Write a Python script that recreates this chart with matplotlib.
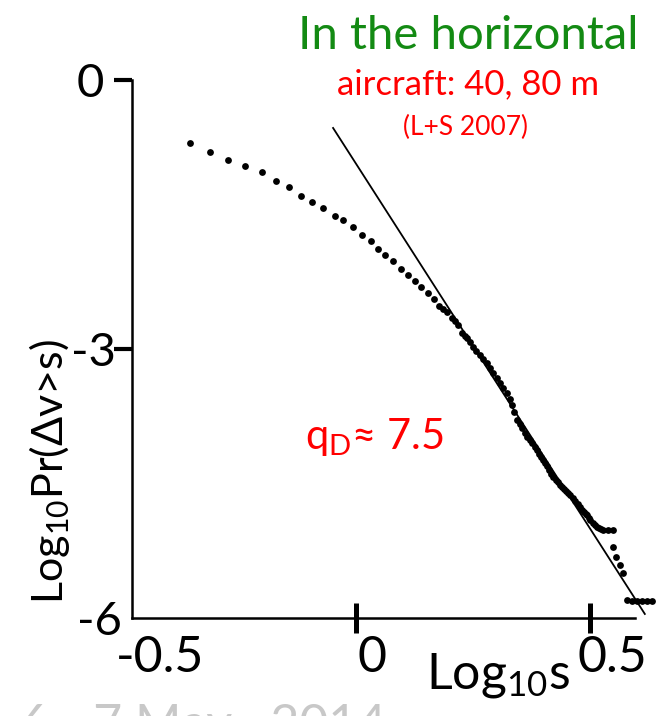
"""
plot.py
Tail of the horizontal velocity-increment distribution (aircraft data, L+S 2007).
"""
import matplotlib
matplotlib.use('Agg')
import matplotlib.pyplot as plt
from matplotlib.transforms import ScaledTranslation

plt.rcParams['font.family'] = ['Lato', 'DejaVu Sans']
plt.rcParams['mathtext.fontset'] = 'custom'
plt.rcParams['mathtext.rm'] = 'Lato'
plt.rcParams['mathtext.it'] = 'Lato'

# log10 s  vs  log10 Pr(dv > s)
log_s = [-0.355, -0.312, -0.274, -0.237, -0.201, -0.171, -0.143, -0.118, -0.094, -0.071,
         -0.045, -0.028, -0.006, 0.013, 0.032, 0.047, 0.062, 0.079, 0.096, 0.111,
         0.126, 0.139, 0.154, 0.167, 0.177, 0.186, 0.194, 0.205, 0.212, 0.218,
         0.226, 0.233, 0.237, 0.244, 0.250, 0.256, 0.265, 0.271, 0.280, 0.286,
         0.293, 0.301, 0.308, 0.314, 0.323, 0.329, 0.333, 0.338, 0.344, 0.350,
         0.355, 0.361, 0.365, 0.372, 0.376, 0.382, 0.387, 0.391, 0.395, 0.400,
         0.404, 0.408, 0.412, 0.417, 0.421, 0.427, 0.432, 0.436, 0.440, 0.444,
         0.449, 0.453, 0.457, 0.464, 0.468, 0.474, 0.479, 0.483, 0.487, 0.491,
         0.494, 0.498, 0.500, 0.506, 0.511, 0.515, 0.519, 0.524, 0.528, 0.538,
         0.549, 0.549, 0.556, 0.564, 0.571, 0.579, 0.590, 0.600, 0.611, 0.622,
         0.632]
log_pr = [-0.70, -0.80, -0.89, -0.96, -1.03, -1.13, -1.19, -1.29, -1.36, -1.43,
          -1.52, -1.56, -1.64, -1.73, -1.80, -1.88, -1.95, -2.02, -2.11, -2.17,
          -2.24, -2.31, -2.38, -2.44, -2.52, -2.55, -2.59, -2.65, -2.69, -2.73,
          -2.82, -2.85, -2.88, -2.92, -2.98, -3.02, -3.07, -3.11, -3.16, -3.21,
          -3.27, -3.32, -3.38, -3.43, -3.49, -3.56, -3.62, -3.70, -3.79, -3.84,
          -3.88, -3.94, -3.98, -4.01, -4.05, -4.09, -4.13, -4.17, -4.20, -4.24,
          -4.27, -4.31, -4.35, -4.39, -4.43, -4.46, -4.48, -4.52, -4.54, -4.56,
          -4.58, -4.61, -4.63, -4.66, -4.70, -4.73, -4.76, -4.80, -4.82, -4.84,
          -4.85, -4.88, -4.91, -4.94, -4.96, -4.98, -5.00, -5.01, -5.02, -5.02,
          -5.02, -5.21, -5.32, -5.41, -5.50, -5.80, -5.81, -5.81, -5.81, -5.81,
          -5.81]

# fitted power-law tail (straight line in log-log)
fit_x = [-0.049, 0.617]
fit_y = [-0.535, -5.955]

x_ticks = [-0.5, 0, 0.5]
x_tick_labels = ['-0.5', '0', '0.5']
y_ticks = [0, -3, -6]
y_tick_labels = ['0', '-3', '-6']

x_min, x_max = -0.5085, 0.596
y_axis_at = -0.4786   # where the left spine is drawn

fig = plt.figure(figsize=(6.64, 7.16), dpi=100)
ax = fig.add_axes([118 / 664, 98 / 716, 517 / 664, 538 / 716])
ax.set_xlim(x_min, x_max)
ax.set_ylim(-6, 0)

ax.plot(fit_x, fit_y, color='black', linewidth=1.3, clip_on=False)
ax.scatter(log_s, log_pr, s=24, color='black', linewidths=0, clip_on=False, zorder=3)

for side in ['top', 'right']:
    ax.spines[side].set_visible(False)
for side in ['left', 'bottom']:
    ax.spines[side].set_linewidth(1.8)
ax.spines['left'].set_position(('data', y_axis_at))
ax.spines['bottom'].set_bounds(y_axis_at, x_max)

ax.set_xticks(x_ticks, x_tick_labels, fontsize=36)
ax.set_yticks(y_ticks, y_tick_labels, fontsize=34)
ax.tick_params(axis='x', direction='inout', length=21, width=3.6, pad=2)
ax.tick_params(axis='y', direction='out', length=13, width=3.0, pad=1.5)

# corner ticks are hidden in the original
ax.xaxis.get_major_ticks()[0].tick1line.set_visible(False)
ax.yaxis.get_major_ticks()[2].tick1line.set_visible(False)

# labels sit a bit off their ticks
x_shift_px = [38, 16, 22]
for lbl, dx in zip(ax.get_xticklabels(), x_shift_px):
    lbl.set_transform(lbl.get_transform() + ScaledTranslation(dx / 100, 0, fig.dpi_scale_trans))
y_shift_px = [-8, 4, 10]
for lbl, dx in zip(ax.get_yticklabels(), y_shift_px):
    lbl.set_transform(lbl.get_transform() + ScaledTranslation(dx / 100, 0, fig.dpi_scale_trans))

fig.text(498 / 664, 1 - 676 / 716, r'Log$_{10}$s', fontsize=36, ha='center', va='center')
fig.text(50 / 664, 1 - 472 / 716, r'Log$_{10}$Pr($\Delta$v>s)', fontsize=31,
         rotation=90, ha='center', va='center')

fig.text(468 / 664, 1 - 36 / 716, 'In the horizontal', color='#138A13', fontsize=34,
         ha='center', va='center')
fig.text(468 / 664, 1 - 84 / 716, 'aircraft: 40, 80 m', color='red', fontsize=25,
         ha='center', va='center')
fig.text(466 / 664, 1 - 127 / 716, '(L+S 2007)', color='red', fontsize=19,
         ha='center', va='center')
fig.text(375 / 664, 1 - 437 / 716, r'q$_\mathrm{D}$≈ 7.5', color='red', fontsize=30,
         ha='center', va='center')

# date footer, cut off by the bottom edge
fig.text(20 / 664, 1 - 703 / 716, '6 - 7 May   2014', color='#C8C8C8', fontsize=36,
         ha='left', va='top')

plt.savefig('out.png', dpi=100)
plt.close()
